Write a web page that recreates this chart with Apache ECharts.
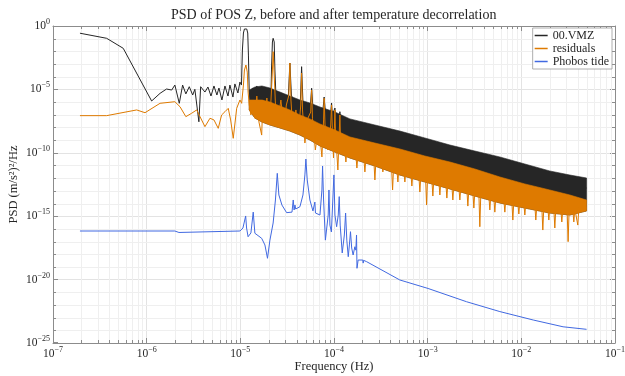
<!DOCTYPE html>
<html><head><meta charset="utf-8">
<script src="https://cdn.jsdelivr.net/npm/echarts@6/dist/echarts.min.js"></script>
<style>html,body{margin:0;padding:0;background:#fff}#c{width:625px;height:376px}</style>
</head><body><div id="c"></div>
<script>
const chartTitle = 'PSD of POS Z, before and after temperature decorrelation';
const seriesNames = ['00.VMZ', 'residuals', 'Phobos tide'];
const xTickExponents = [-7, -6, -5, -4, -3, -2, -1];
const yTickExponents = [-25, -20, -15, -10, -5, 0];

// 00.VMZ (black) : [frequency Hz, PSD]
const vmzPts = [
 [1.94e-7,0.27],[3.74e-7,0.107],[5.62e-7,0.0174],[1.13e-6,1.22e-6],[1.39e-6,4.9e-6],[1.63e-6,1.07e-5],
 [1.85e-6,8.9e-6],[2.0e-6,2.2e-5],[2.23e-6,8.0e-7],[2.42e-6,2.2e-5],[2.62e-6,4.4e-6],[2.85e-6,1.63e-5],
 [3.1e-6,3.6e-6],[3.27e-6,1.02e-5],[3.61e-6,2.8e-8],[3.77e-6,1.63e-5],[4.19e-6,6.2e-6],[4.51e-6,1.55e-5],
 [4.86e-6,3.0e-6],[5.23e-6,1.86e-5],[5.62e-6,3.6e-6],[5.91e-6,1.29e-5],[6.36e-6,1.46e-6],[6.85e-6,1.86e-5],
 [7.38e-6,3.0e-6],[7.74e-6,2.2e-5],[8.34e-6,2.5e-6],[8.75e-6,2.7e-5],[9.42e-6,5.2e-6],[9.9e-6,3.8e-5],
 [1.028e-5,2.2e-5],[1.052e-5,0.0128],[1.079e-5,0.28],[1.106e-5,0.58],[1.14e-5,0.70],[1.17e-5,0.58],
 [1.2e-5,0.28],[1.22e-5,5.1e-3],[1.245e-5,6.2e-6],[1.297e-5,1.46e-6],[1.365e-5,1.29e-5],[1.43e-5,7.1e-7],
 [1.50e-5,1.86e-5],[1.58e-5,4.6e-7],[1.66e-5,1.07e-5],[1.74e-5,3.4e-7],[1.83e-5,8.9e-6],[1.92e-5,7.1e-7],
 [2.02e-5,6.2e-6],[2.12e-5,2.1e-6],[2.15e-5,3.4e-4],[2.20e-5,0.055],[2.24e-5,0.107],[2.30e-5,0.055],
 [2.34e-5,3.4e-4],[2.40e-5,3.0e-6],[2.78e-5,2.4e-7],[3.26e-5,3.6e-6],[3.38e-5,1.2e-3],[3.51e-5,3.6e-6],
 [3.92e-5,1.66e-7],[4.38e-5,1.46e-6],[4.51e-5,6.2e-4],[4.66e-5,1.02e-6],[5.14e-5,9.6e-8],[5.6e-5,5.9e-7],
 [5.77e-5,1.23e-5],[5.96e-5,3.4e-7],[6.73e-5,5.3e-8],[7.62e-5,2.4e-7],[7.85e-5,2.5e-6],[8.09e-5,1.66e-7],
 [9.2e-5,1.15e-7],[9.42e-5,8.5e-7],[9.6e-5,9.6e-8],[1.005e-4,8.0e-8],[1.023e-4,3.4e-7],[1.042e-4,5.3e-8],
 [1.137e-4,3.9e-8],[1.156e-4,1.74e-7],[1.178e-4,2.7e-8],[5.05e-4,1.0e-9],[5.90e-3,4.4e-12],[4.97e-2,1.67e-13]
];

// residuals (orange)
const residualPts = [
 [1.94e-7,8.5e-8],[3.74e-7,8.5e-8],[7.82e-7,2.4e-7],[9.6e-7,1.45e-7],[1.39e-6,8.0e-7],[2.0e-6,1.07e-6],
 [2.27e-6,4.3e-7],[2.62e-6,7.1e-8],[3.02e-6,1.31e-7],[3.42e-6,2.4e-7],[3.71e-6,7.1e-8],[4.19e-6,1.15e-8],
 [4.74e-6,5.3e-8],[5.23e-6,3.9e-8],[5.81e-6,8.5e-9],[6.31e-6,9.6e-8],[6.85e-6,1.74e-7],[7.43e-6,3.2e-7],
 [7.88e-6,3.9e-8],[8.4e-6,1.39e-9],[9.14e-6,3.2e-7],[9.9e-6,1.46e-6],[1.033e-5,8.0e-7],[1.079e-5,2.2e-5],
 [1.106e-5,3.4e-4],[1.148e-5,8.4e-4],[1.186e-5,2.3e-4],[1.21e-5,6.2e-6],[1.245e-5,5.9e-7],[1.297e-5,9.6e-8],
 [1.365e-5,1.46e-6],[1.43e-5,5.3e-8],[1.50e-5,3.0e-6],[1.58e-5,2.7e-8],[1.69e-5,2.5e-9],[1.74e-5,1.46e-6],
 [1.83e-5,3.9e-8],[1.92e-5,2.1e-6],[2.02e-5,1.56e-8],[2.12e-5,1.02e-6],[2.19e-5,1.37e-4],[2.24e-5,9.4e-3],
 [2.30e-5,1.37e-4],[2.37e-5,7.1e-7],[2.52e-5,2.7e-8],[2.71e-5,1.46e-6],[2.92e-5,8.5e-9],[3.10e-5,5.9e-7],
 [3.30e-5,3.6e-6],[3.38e-5,1.2e-3],[3.47e-5,1.46e-6],[3.64e-5,5.2e-9],[3.92e-5,2.4e-7],[4.17e-5,3.6e-9],
 [4.42e-5,5.9e-7],[4.51e-5,1.96e-4],[4.61e-5,2.4e-7],[4.89e-5,5.9e-10],[5.26e-5,5.3e-8],[5.64e-5,1.66e-7],
 [5.77e-5,8.9e-6],[5.89e-5,5.3e-8],[6.32e-5,1.66e-10],[6.90e-5,1.56e-8],[7.43e-5,4.7e-11],[7.74e-5,3.9e-8],
 [7.85e-5,2.0e-6],[8.02e-5,1.56e-8],[8.61e-5,1.66e-10],[9.23e-5,1.56e-8],[9.42e-5,5.9e-7],[9.6e-5,8.5e-9],
 [9.88e-5,3.9e-11],[1.01e-4,8.5e-9],[1.023e-4,2.4e-7],[1.035e-4,6.3e-9],[1.10e-4,4.4e-12],[1.14e-4,6.3e-9],
 [1.156e-4,9.6e-8],[1.17e-4,2.5e-9],
 [1.307e-4,1.38e-10],[1.340e-4,1.88e-11],[1.373e-4,1.38e-10],
 [1.713e-4,6.7e-11],[1.756e-4,6.3e-12],[1.800e-4,6.7e-11],
 [2.085e-4,3.9e-11],[2.137e-4,3.1e-12],[2.190e-4,3.9e-11],
 [2.666e-4,2.2e-11],[2.733e-4,7.2e-13],[2.801e-4,2.2e-11],
 [3.244e-4,1.31e-11],[3.325e-4,3.1e-12],[3.408e-4,1.31e-11],
 [4.118e-4,7.6e-12],[4.221e-4,1.17e-13],[4.327e-4,7.6e-12],
 [4.691e-4,5.3e-12],[4.808e-4,5.0e-13],[4.928e-4,5.3e-12],
 [5.571e-4,3.7e-12],[5.71e-4,5.0e-13],[5.853e-4,3.7e-12],
 [6.617e-4,2.6e-12],[6.782e-4,2.4e-13],[6.952e-4,2.6e-12],
 [8.053e-4,1.77e-12],[8.254e-4,8.1e-14],[8.460e-4,1.77e-12],
 [9.497e-4,1.24e-12],[9.734e-4,7.6e-15],[9.977e-4,1.24e-12],
 [1.108e-3,8.6e-13],[1.136e-3,3.9e-14],[1.164e-3,8.6e-13],
 [1.317e-3,6.0e-13],[1.350e-3,4.7e-14],[1.384e-3,6.0e-13],
 [1.564e-3,4.2e-13],[1.603e-3,2.7e-14],[1.643e-3,4.2e-13],
 [1.812e-3,2.9e-13],[1.857e-3,1.9e-14],[1.903e-3,2.9e-13],
 [2.152e-3,2.0e-13],[2.206e-3,1.9e-14],[2.261e-3,2.0e-13],
 [2.620e-3,1.41e-13],[2.685e-3,6.3e-15],[2.752e-3,1.41e-13],
 [3.036e-3,9.8e-14],[3.112e-3,4.4e-15],[3.190e-3,9.8e-14],
 [3.518e-3,8.1e-14],[3.606e-3,1.48e-16],[3.696e-3,8.1e-14],
 [4.498e-3,4.7e-14],[4.61e-3,3.1e-15],[4.725e-3,4.7e-14],
 [5.087e-3,3.3e-14],[5.214e-3,2.1e-15],[5.344e-3,3.3e-14],
 [6.503e-3,2.3e-14],[6.666e-3,2.1e-15],[6.833e-3,2.3e-14],
 [7.917e-3,1.58e-14],[8.115e-3,5.0e-16],[8.318e-3,1.58e-14],
 [9.175e-3,1.3e-14],[9.404e-3,1.49e-15],[9.639e-3,1.3e-14],
 [1.063e-2,1.1e-14],[1.090e-2,1.24e-15],[1.117e-2,1.1e-14],
 [1.393e-2,7.6e-15],[1.428e-2,5.0e-16],[1.464e-2,7.6e-15],
 [1.655e-2,5.3e-15],[1.696e-2,8.1e-17],[1.738e-2,5.3e-15],
 [1.918e-2,5.3e-15],[1.966e-2,5.0e-16],[2.015e-2,5.3e-15],
 [2.222e-2,4.4e-15],[2.278e-2,1.17e-16],[2.335e-2,4.4e-15],
 [2.639e-2,3.7e-15],[2.705e-2,3.5e-16],[2.773e-2,3.7e-15],
 [3.081e-2,3.1e-15],[3.158e-2,9.8e-18],[3.237e-2,3.1e-15],
 [3.545e-2,3.7e-15],[3.634e-2,3.5e-16],[3.725e-2,3.7e-15],
 [3.911e-2,4.4e-15],[4.009e-2,2.0e-16],[4.109e-2,4.4e-15],
 [4.97e-2,4.4e-15]
];

// Phobos tide (blue)
const tidePts = [
 [1.94e-7,6.8e-17],[2.0e-6,6.8e-17],[2.21e-6,5.2e-17],[2.32e-6,6.8e-17],[9.9e-6,6.8e-17],[1.066e-5,1.17e-16],
 [1.14e-5,1.04e-15],[1.166e-5,1.17e-16],[1.21e-5,2.4e-17],[1.297e-5,4.8e-17],[1.373e-5,2.1e-15],[1.43e-5,4.5e-17],
 [1.69e-5,1.8e-17],[1.83e-5,5.4e-18],[1.95e-5,4.8e-19],[2.07e-5,1.3e-17],[2.24e-5,2.9e-16],[2.37e-5,1.9e-14],
 [2.48e-5,2.4e-12],[2.58e-5,4.7e-14],[2.78e-5,7.6e-15],[3.12e-5,1.9e-15],[3.56e-5,2.1e-15],[3.67e-5,1.9e-14],
 [3.75e-5,3.1e-15],[3.83e-5,7.6e-15],[3.90e-5,3.7e-15],[4.33e-5,5.6e-15],[4.66e-5,4.7e-14],[4.89e-5,1.8e-12],
 [5.01e-5,3.2e-11],[5.18e-5,7.2e-13],[5.53e-5,1.9e-14],[5.96e-5,2.6e-15],[6.18e-5,2.3e-15],[6.25e-5,1.3e-14],
 [6.34e-5,1.78e-15],[7.08e-5,1.24e-15],[7.43e-5,1.17e-13],[7.55e-5,9.1e-12],[7.74e-5,1.9e-14],[8.09e-5,1.3e-17],
 [8.67e-5,1.24e-15],[8.83e-5,1.17e-13],[9.04e-5,2.0e-16],[9.38e-5,5.7e-17],[9.98e-5,1.8e-12],[1.023e-4,1.24e-15],
 [1.067e-4,1.48e-16],[1.11e-4,1.24e-15],[1.137e-4,3.5e-14],[1.164e-4,2.0e-16],[1.224e-4,1.26e-18],[1.29e-4,3.3e-17],
 [1.33e-4,1.78e-15],[1.37e-4,1.3e-17],[1.42e-4,6.4e-19],[1.46e-4,5.4e-18],[1.50e-4,6.0e-17],[1.545e-4,3.1e-18],
 [1.60e-4,8.7e-19],[1.67e-4,3.9e-18],[1.71e-4,2.1e-18],[1.74e-4,3.3e-17],[1.76e-4,7.8e-20],[1.81e-4,3.5e-19],
 [2.03e-4,3.5e-19],[2.05e-4,2.0e-19],[2.07e-4,3.3e-19],[2.23e-4,2.6e-19],[5.05e-4,9.3e-21],[1.01e-3,2.0e-21],
 [2.60e-3,1.8e-22],[5.90e-3,3.0e-23],[1.34e-2,6.5e-24],[2.79e-2,1.9e-24],[4.97e-2,1.2e-24]
];

// envelopes of the dense high-frequency part of the spectra
const bandFreq    = [1.245e-5,1.43e-5,1.70e-5,2.07e-5,2.65e-5,3.38e-5,4.33e-5,5.53e-5,7.08e-5,1.023e-4,1.48e-4,2.73e-4,5.05e-4,9.33e-4,1.73e-3,3.19e-3,5.90e-3,1.09e-2,2.01e-2,3.30e-2,4.97e-2];
const vmzTop      = [8.9e-6,1.55e-5,1.86e-5,1.29e-5,6.2e-6,3.0e-6,1.46e-6,8.5e-7,4.1e-7,1.66e-7,4.7e-8,1.56e-8,5.2e-9,1.48e-9,4.1e-10,1.38e-10,4.7e-11,1.31e-11,3.7e-12,1.77e-12,1.03e-12];
const residualTop = [1.46e-6,1.46e-6,1.46e-6,1.02e-6,4.9e-7,2.4e-7,9.6e-8,4.7e-8,1.87e-8,6.3e-9,1.77e-9,5.9e-10,2.0e-10,5.6e-11,1.88e-11,5.3e-12,1.24e-12,3.5e-13,1.17e-13,4.7e-14,1.9e-14];
const residualBottom = [2.4e-7,5.5e-8,2.7e-8,1.56e-8,9.1e-9,5.2e-9,2.5e-9,1.02e-9,3.5e-10,1.15e-10,3.9e-11,9.1e-12,1.77e-12,5.0e-13,1.41e-13,3.9e-14,1.1e-14,4.4e-15,1.78e-15,1.24e-15,2.6e-15];

const COLORS = ['#262626', '#DE7A00', '#4169E1'];
const F = 'Liberation Serif';
const XMIN = 1e-7, XMAX = 1e-1, YMIN = 1e-25, YMAX = 1;

// minor grid positions (axis structure)
const xMinor = [];
for (let e = -7; e <= -2; e++) for (let k = 2; k <= 9; k++) xMinor.push(k * Math.pow(10, e));
const yMinor = [];
for (let e = -24; e <= -1; e++) if (e % 5 !== 0) yMinor.push(Math.pow(10, e));

function expText(e) {
  return '{b|10}{s|' + (e < 0 ? '\u2212' + (-e) : String(e)) + '}';
}
function expLabel(v, list) {
  if (!(v > 0)) return '';
  const e = Math.round(Math.log10(v));
  if (list.indexOf(e) < 0) return '';
  return expText(e);
}
const rich = {
  b: { fontFamily: F, fontSize: 11.5, color: '#262626', lineHeight: 16 },
  s: { fontFamily: F, fontSize: 8, color: '#262626', lineHeight: 9, verticalAlign: 'top' }
};
const richRaw = {
  b: { fontFamily: F, fontSize: 11.5, fill: '#262626', lineHeight: 16 },
  s: { fontFamily: F, fontSize: 8, fill: '#262626', lineHeight: 9, verticalAlign: 'top' }
};
const axColor = '#8c8c8c';
const LABEL_MARGIN = 3;

function bandPolygon(top, bottom, color) {
  return function (params, api) {
    const pts = [];
    for (let i = 0; i < bandFreq.length; i++) pts.push(api.coord([bandFreq[i], top[i]]));
    for (let i = bandFreq.length - 1; i >= 0; i--) pts.push(api.coord([bandFreq[i], bottom[i]]));
    return { type: 'polygon', shape: { points: pts }, style: { fill: color, stroke: color, lineWidth: 0.6 } };
  };
}

const chart = echarts.init(document.getElementById('c'), null, { renderer: 'canvas' });
chart.setOption({
  animation: false,
  backgroundColor: '#fff',
  title: {
    text: chartTitle, left: 171, top: 8, padding: 0,
    textStyle: { fontFamily: F, fontSize: 14, fontWeight: 'normal', color: '#262626' }
  },
  legend: {
    data: seriesNames, orient: 'vertical', right: 13, top: 28,
    icon: 'rect', itemWidth: 13, itemHeight: 1.5, itemGap: 0,
    padding: [1, 3, 1, 2], borderColor: '#9a9a9a', borderWidth: 0.8, backgroundColor: '#fff',
    textStyle: { fontFamily: F, fontSize: 12, color: '#262626', lineHeight: 13 }
  },
  grid: { left: 53, right: 10, top: 26, bottom: 33, containLabel: false, outerBoundsMode: 'none' },
  xAxis: [{
    type: 'log', logBase: 10, min: XMIN, max: XMAX, interval: 1, position: 'bottom',
    axisLine: { show: true, onZero: false, lineStyle: { color: axColor, width: 1 } },
    axisTick: { show: true, inside: true, length: 5, lineStyle: { color: axColor } },
    axisLabel: { margin: 3, showMinLabel: true, showMaxLabel: true, formatter: v => expLabel(v, xTickExponents), rich: rich },
    splitLine: { show: true, lineStyle: { color: '#e3e3e3', width: 1 } },
    name: 'Frequency (Hz)', nameLocation: 'middle', nameGap: 17, nameMoveOverlap: false,
    nameTextStyle: { fontFamily: F, fontSize: 12.5, color: '#262626' }
  }, {
    type: 'log', logBase: 10, min: XMIN, max: XMAX, interval: 1, position: 'top',
    axisLine: { show: true, onZero: false, lineStyle: { color: axColor, width: 1 } },
    axisTick: { show: true, inside: true, length: 5, lineStyle: { color: axColor } },
    axisLabel: { show: false }, splitLine: { show: false }
  }],
  yAxis: [{
    type: 'log', logBase: 10, min: YMIN, max: YMAX, interval: 5, position: 'left',
    axisLine: { show: true, onZero: false, lineStyle: { color: axColor, width: 1 } },
    axisTick: { show: true, inside: true, length: 5, lineStyle: { color: axColor } },
    axisLabel: { margin: LABEL_MARGIN, showMinLabel: true, showMaxLabel: true, formatter: v => expLabel(v, yTickExponents), rich: rich },
    splitLine: { show: true, lineStyle: { color: '#e3e3e3', width: 1 } },
    name: 'PSD (m/s\u00b2)\u00b2/Hz', nameLocation: 'middle', nameGap: 33, nameRotate: 90, nameMoveOverlap: false,
    nameTextStyle: { fontFamily: F, fontSize: 12.5, color: '#262626' }
  }, {
    type: 'log', logBase: 10, min: YMIN, max: YMAX, interval: 5, position: 'right',
    axisLine: { show: true, onZero: false, lineStyle: { color: axColor, width: 1 } },
    axisTick: { show: true, inside: true, length: 5, lineStyle: { color: axColor } },
    axisLabel: { show: false }, splitLine: { show: false }
  }],
  series: [
    {
      type: 'custom', silent: true, z: 1, xAxisIndex: 0, yAxisIndex: 0, clip: false,
      data: [[1e-6, 1e-10]],
      renderItem: function (params, api) {
        const c = [];
        const p0 = api.coord([XMIN, YMIN]), p1 = api.coord([XMAX, YMAX]);
        const xl = p0[0], yb = p0[1], xr = p1[0], yt = p1[1];
        xMinor.forEach(f => {
          const x = Math.round(api.coord([f, YMIN])[0]) + 0.5;
          c.push({ type: 'line', shape: { x1: x, y1: yb, x2: x, y2: yt }, style: { stroke: '#efefef', lineWidth: 1 } });
          c.push({ type: 'line', shape: { x1: x, y1: yb, x2: x, y2: yb - 3 }, style: { stroke: axColor, lineWidth: 1 } });
          c.push({ type: 'line', shape: { x1: x, y1: yt, x2: x, y2: yt + 3 }, style: { stroke: axColor, lineWidth: 1 } });
        });
        yMinor.forEach(v => {
          const y = Math.round(api.coord([XMIN, v])[1]) + 0.5;
          c.push({ type: 'line', shape: { x1: xl, y1: y, x2: xr, y2: y }, style: { stroke: '#efefef', lineWidth: 1 } });
          c.push({ type: 'line', shape: { x1: xl, y1: y, x2: xl + 3, y2: y }, style: { stroke: axColor, lineWidth: 1 } });
          c.push({ type: 'line', shape: { x1: xr, y1: y, x2: xr - 3, y2: y }, style: { stroke: axColor, lineWidth: 1 } });
        });
        // the axis-minimum tick label (10^-25), which the log axis drops because its value rounds to 0
        const e0 = yTickExponents[0];
        const pMin = api.coord([XMIN, Math.pow(10, e0)]);
        c.push({
          type: 'text', x: pMin[0] - LABEL_MARGIN, y: pMin[1],
          style: { text: expText(e0), rich: richRaw, align: 'right', verticalAlign: 'middle',
                   fontFamily: F, fontSize: 11.5, fill: '#262626' }
        });
        c.push({ type: 'line', shape: { x1: xl, y1: yb - 0.5, x2: xl + 5, y2: yb - 0.5 }, style: { stroke: axColor, lineWidth: 1 } });
        return { type: 'group', children: c };
      }
    },
    {
      type: 'custom', silent: true, z: 2, data: [[bandFreq[0], vmzTop[0]]],
      renderItem: bandPolygon(vmzTop, residualBottom, COLORS[0])
    },
    {
      name: seriesNames[0], type: 'line', z: 3, data: vmzPts, showSymbol: false, symbol: 'none',
      color: COLORS[0], lineStyle: { color: COLORS[0], width: 1 }
    },
    {
      type: 'custom', silent: true, z: 4, data: [[bandFreq[0], residualTop[0]]],
      renderItem: bandPolygon(residualTop, residualBottom, COLORS[1])
    },
    {
      name: seriesNames[1], type: 'line', z: 5, data: residualPts, showSymbol: false, symbol: 'none',
      color: COLORS[1], lineStyle: { color: COLORS[1], width: 1 }
    },
    {
      name: seriesNames[2], type: 'line', z: 6, data: tidePts, showSymbol: false, symbol: 'none',
      color: COLORS[2], lineStyle: { color: COLORS[2], width: 1 }
    }
  ]
});
</script></body></html>
